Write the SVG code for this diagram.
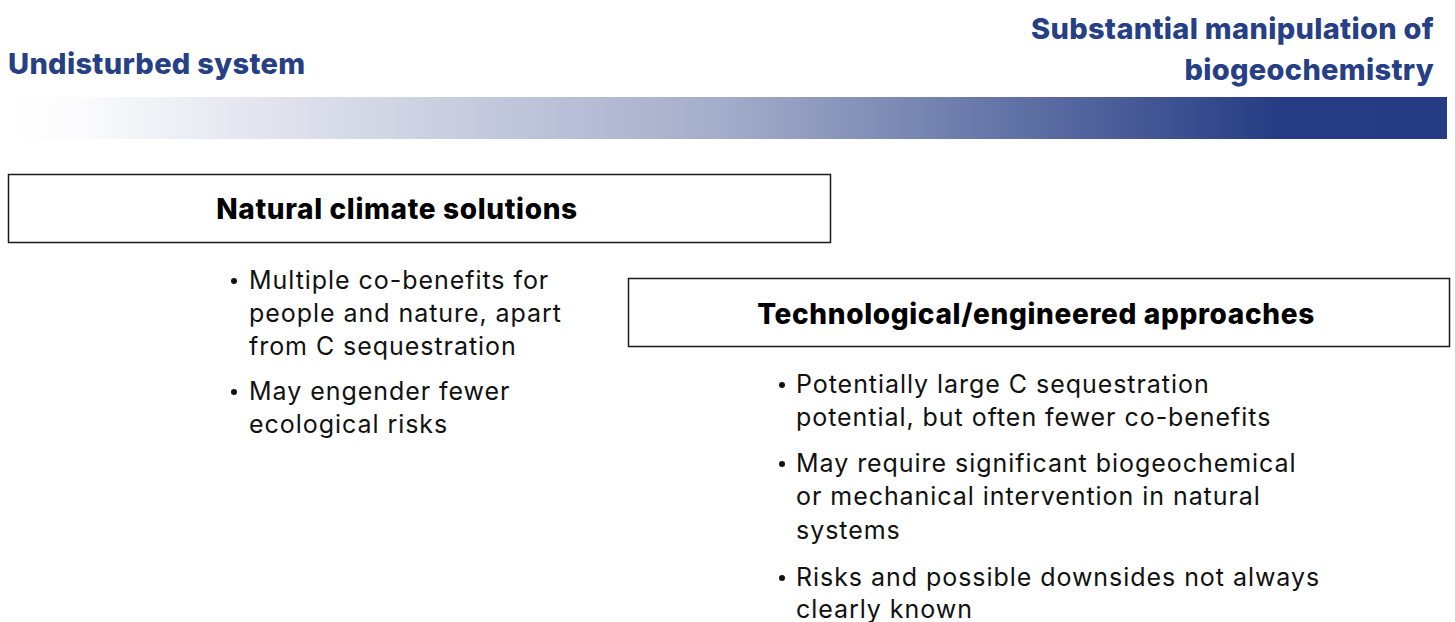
<svg xmlns="http://www.w3.org/2000/svg" width="1455" height="622" viewBox="0 0 1455 622">
<defs>
<linearGradient id="bar" x1="0" y1="0" x2="1" y2="0">
<stop offset="0" stop-color="#ffffff"/>
<stop offset="0.05" stop-color="#fbfbfd"/>
<stop offset="0.5" stop-color="#a3acc9"/>
<stop offset="0.88" stop-color="#263d85"/>
<stop offset="1" stop-color="#253c85"/>
</linearGradient>
<style>
.hdr{font-family:Inter,"Liberation Sans",sans-serif;font-weight:800;font-size:29px;letter-spacing:0.3px;fill:#263f85}
.box{fill:#ffffff;stroke:#1a1a1a;stroke-width:1.5}
.title{font-family:Inter,"Liberation Sans",sans-serif;font-weight:800;font-size:28px;letter-spacing:0.65px;fill:#000;text-anchor:middle}
.body{font-family:Inter,"Liberation Sans",sans-serif;font-size:25px;letter-spacing:0.95px;fill:#111}
.dot{fill:#111}
</style>
</defs>
<rect width="1455" height="622" fill="#ffffff"/>
<g id="header">
<text class="hdr" x="8" y="74">Undisturbed system</text>
<text class="hdr" x="1434" y="39" text-anchor="end">Substantial manipulation of</text>
<text class="hdr" x="1434" y="80" text-anchor="end">biogeochemistry</text>
<rect x="7" y="97" width="1440" height="42" fill="url(#bar)"/>
</g>
<g id="natural">
<rect class="box" x="8.5" y="174.5" width="822" height="68"/>
<text class="title" x="397" y="219">Natural climate solutions</text>
<circle class="dot" cx="234" cy="281" r="3"/>
<text class="body" x="249" y="289">Multiple co-benefits for</text>
<text class="body" x="249" y="322">people and nature, apart</text>
<text class="body" x="249" y="355">from C sequestration</text>
<circle class="dot" cx="234" cy="392" r="3"/>
<text class="body" x="249" y="400">May engender fewer</text>
<text class="body" x="249" y="433">ecological risks</text>
</g>
<g id="technological">
<rect class="box" x="628.5" y="278.5" width="821" height="68"/>
<text class="title" x="1036" y="324">Technological/engineered approaches</text>
<circle class="dot" cx="782" cy="385" r="3"/>
<text class="body" x="796" y="393">Potentially large C sequestration</text>
<text class="body" x="796" y="426">potential, but often fewer co-benefits</text>
<circle class="dot" cx="782" cy="464" r="3"/>
<text class="body" x="796" y="472">May require significant biogeochemical</text>
<text class="body" x="796" y="505">or mechanical intervention in natural</text>
<text class="body" x="796" y="539">systems</text>
<circle class="dot" cx="782" cy="578" r="3"/>
<text class="body" x="796" y="586">Risks and possible downsides not always</text>
<text class="body" x="796" y="618">clearly known</text>
</g>
<g id="connectors"/>
</svg>
